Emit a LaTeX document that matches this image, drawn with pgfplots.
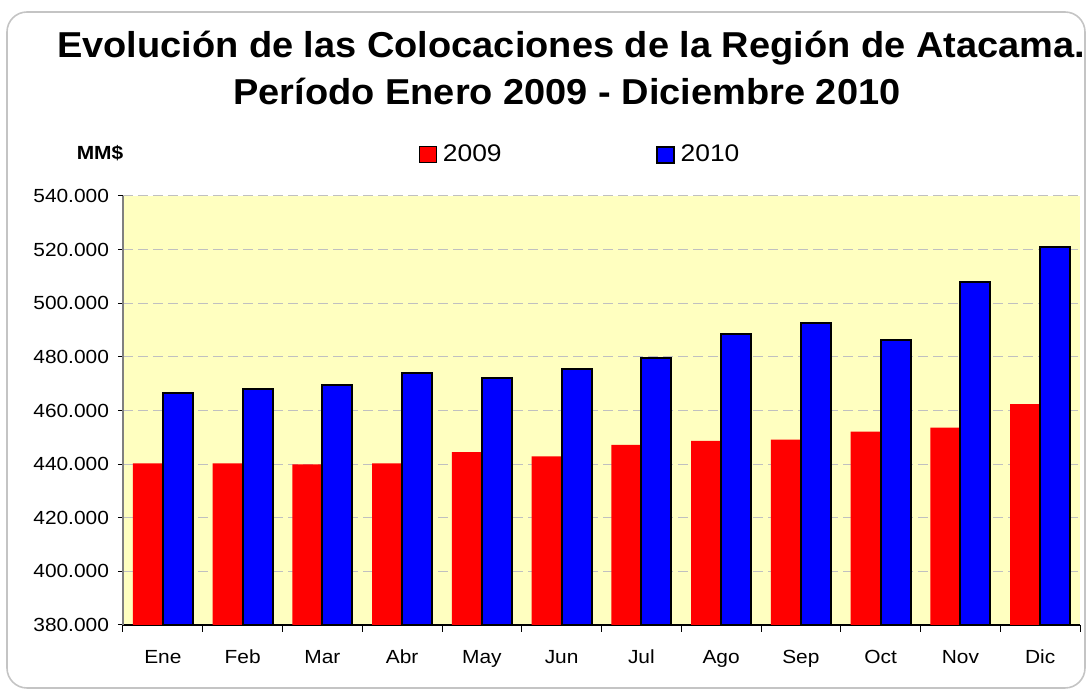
\documentclass[border=0pt]{standalone}
\usepackage{pgfplots}
\pgfplotsset{compat=1.18}
\usepackage{fontspec}
\setmainfont[FakeStretch=1.1]{Liberation Sans}
\newfontfamily\titlefont[FakeStretch=1.055]{Liberation Sans}
\definecolor{bgy}{HTML}{FFFFC0}
\definecolor{gridc}{HTML}{C0C0C0}
\definecolor{framec}{HTML}{C4C4C4}
\begin{document}
\begin{tikzpicture}
\path[use as bounding box] (-61.5pt,-32.5pt) rectangle (482.5pt,312.5pt);
\draw[framec, line width=0.8pt, rounded corners=10pt] (-58pt,-31.5pt) rectangle (481pt,306.5pt);
\begin{axis}[
  at={(0pt,0pt)}, anchor=south west,
  scale only axis,
  width=478.5pt, height=214.5pt,
  ymin=380, ymax=540,
  xmin=-0.5, xmax=11.5,
  ybar=0pt, bar width=15pt,
  axis background/.style={fill=bgy},
  axis lines=left,
  axis line style={-},
  x axis line style={black, line width=0.6pt},
  y axis line style={gray, line width=0.6pt},
  xtick={0,...,11},
  xticklabels={Ene,Feb,Mar,Abr,May,Jun,Jul,Ago,Sep,Oct,Nov,Dic},
  major x tick style={draw=none},
  minor xtick={-0.5,0.5,...,11.5},
  minor x tick style={black, line width=0.5pt},
  minor tick length=3.5pt,
  tick align=outside,
  ytick={380,400,...,540},
  yticklabels={380.000,400.000,420.000,440.000,460.000,480.000,500.000,520.000,540.000},
  major y tick style={black, line width=0.5pt},
  major tick length=2.5pt,
  ymajorgrids,
  grid style={gridc, dash pattern=on 5pt off 2.5pt, line width=0.5pt},
  /pgf/number format/assume math mode=true,
  ticklabel style={font=\fontsize{9.5}{11}\selectfont},
  xticklabel style={yshift=-6pt, text height=7pt, text depth=0pt},
  yticklabel style={xshift=-1pt},
  legend style={draw=none, fill=none, at={(0.309,1.096)}, anchor=west,
    font=\fontsize{12}{14}\selectfont, inner sep=0pt,
    nodes={inner sep=1pt}},
  legend columns=2,
  /tikz/every odd column/.append style={column sep=2pt},
  /tikz/every even column/.append style={column sep=76pt},
  legend image code/.code={\draw[#1] (0pt,-4pt) rectangle (8.5pt,4pt);},
]
\addplot[fill=red, draw=none] coordinates {
(0,440.3) (1,440.3) (2,439.9) (3,440.3) (4,444.5) (5,442.9)
(6,447.2) (7,448.7) (8,449.1) (9,452.1) (10,453.6) (11,462.4)};
\addplot[fill=blue, draw=black, line width=1pt] coordinates {
(0,466.6) (1,467.9) (2,469.5) (3,474.1) (4,472.2) (5,475.4)
(6,479.4) (7,488.4) (8,492.6) (9,486.3) (10,508.1) (11,521.0)};
\legend{2009,2010}
\end{axis}
\node[font=\fontsize{9.5}{11}\selectfont\bfseries] at (-11.5pt,236pt) {MM\$};
\node[font=\titlefont\fontsize{18}{20}\selectfont\bfseries, anchor=base] at (224pt,283.5pt) {Evolución de las Colocaciones de la Región de Atacama.};
\node[font=\titlefont\fontsize{18}{20}\selectfont\bfseries, anchor=base] at (222pt,260pt) {Período Enero 2009 - Diciembre 2010};
\end{tikzpicture}
\end{document}
